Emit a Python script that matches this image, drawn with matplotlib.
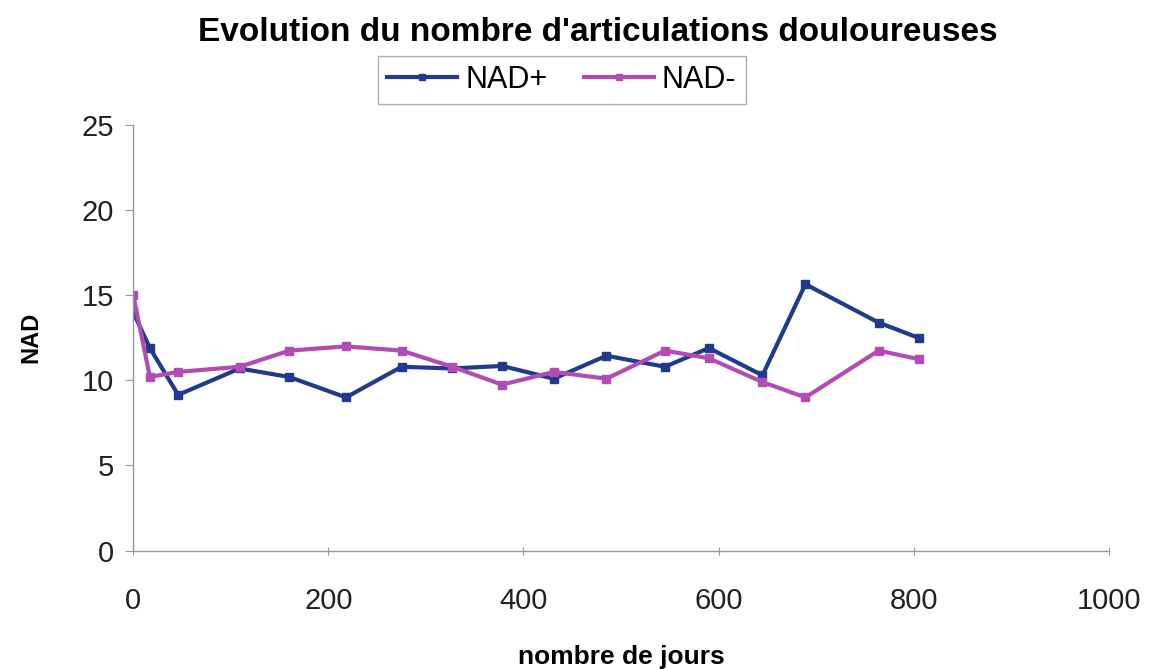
import matplotlib
matplotlib.use("Agg")
import matplotlib.pyplot as plt

plt.rcParams['font.family'] = ['Liberation Sans', 'DejaVu Sans']

# days of follow-up (shared by both series)
jours = [0, 17, 46, 109, 160, 218, 275, 327, 378, 431, 485, 545, 590, 645, 689, 764, 805]
nad_plus = [14.0, 11.9, 9.15, 10.7, 10.2, 9.0, 10.8, 10.7, 10.85, 10.1, 11.45, 10.8, 11.9, 10.3, 15.65, 13.4, 12.5]
nad_moins = [15.0, 10.2, 10.5, 10.8, 11.75, 12.0, 11.75, 10.8, 9.75, 10.5, 10.1, 11.75, 11.3, 9.9, 9.0, 11.75, 11.25]
x_ticks = [0, 200, 400, 600, 800, 1000]
y_ticks = [0, 5, 10, 15, 20, 25]

fig = plt.figure(figsize=(11.49, 6.69), dpi=100)
ax = fig.add_axes([0.116, 0.177, 0.849, 0.636])

ax.plot(jours, nad_plus, color='#1f3a8f', lw=3, marker='s', markersize=5.5, label='NAD+')
ax.plot(jours, nad_moins, color='#b24cb4', lw=3, marker='s', markersize=5.5, label='NAD-')

ax.set_xlim(0, 1000)
ax.set_ylim(0, 25)
ax.set_xticks(x_ticks)
ax.set_yticks(y_ticks)
ax.tick_params(axis='both', labelsize=21, colors='#222222', length=6, color='#999999')
ax.tick_params(axis='x', direction='inout', pad=23)
ax.tick_params(axis='y', direction='out', pad=8)

for s in ['top', 'right']:
    ax.spines[s].set_visible(False)
for s in ['left', 'bottom']:
    ax.spines[s].set_color('#999999')
    ax.spines[s].set_linewidth(1)

ax.set_xlabel('nombre de jours', fontsize=19, fontweight='bold', labelpad=22)
ax.set_ylabel('NAD', fontsize=17, fontweight='bold', labelpad=28)

fig.suptitle("Evolution du nombre d'articulations douloureuses", fontsize=24,
             fontweight='bold', x=0.52, y=0.975)

leg = fig.legend(loc='upper center', bbox_to_anchor=(0.489, 0.917), ncol=2,
                 fontsize=22, frameon=True, fancybox=False, edgecolor='#999999',
                 handlelength=2.3, handletextpad=0.25, columnspacing=1.2,
                 borderpad=0.3, borderaxespad=0, markerscale=0.8)
leg.get_frame().set_linewidth(1)

fig.savefig('out.png', dpi=100)
